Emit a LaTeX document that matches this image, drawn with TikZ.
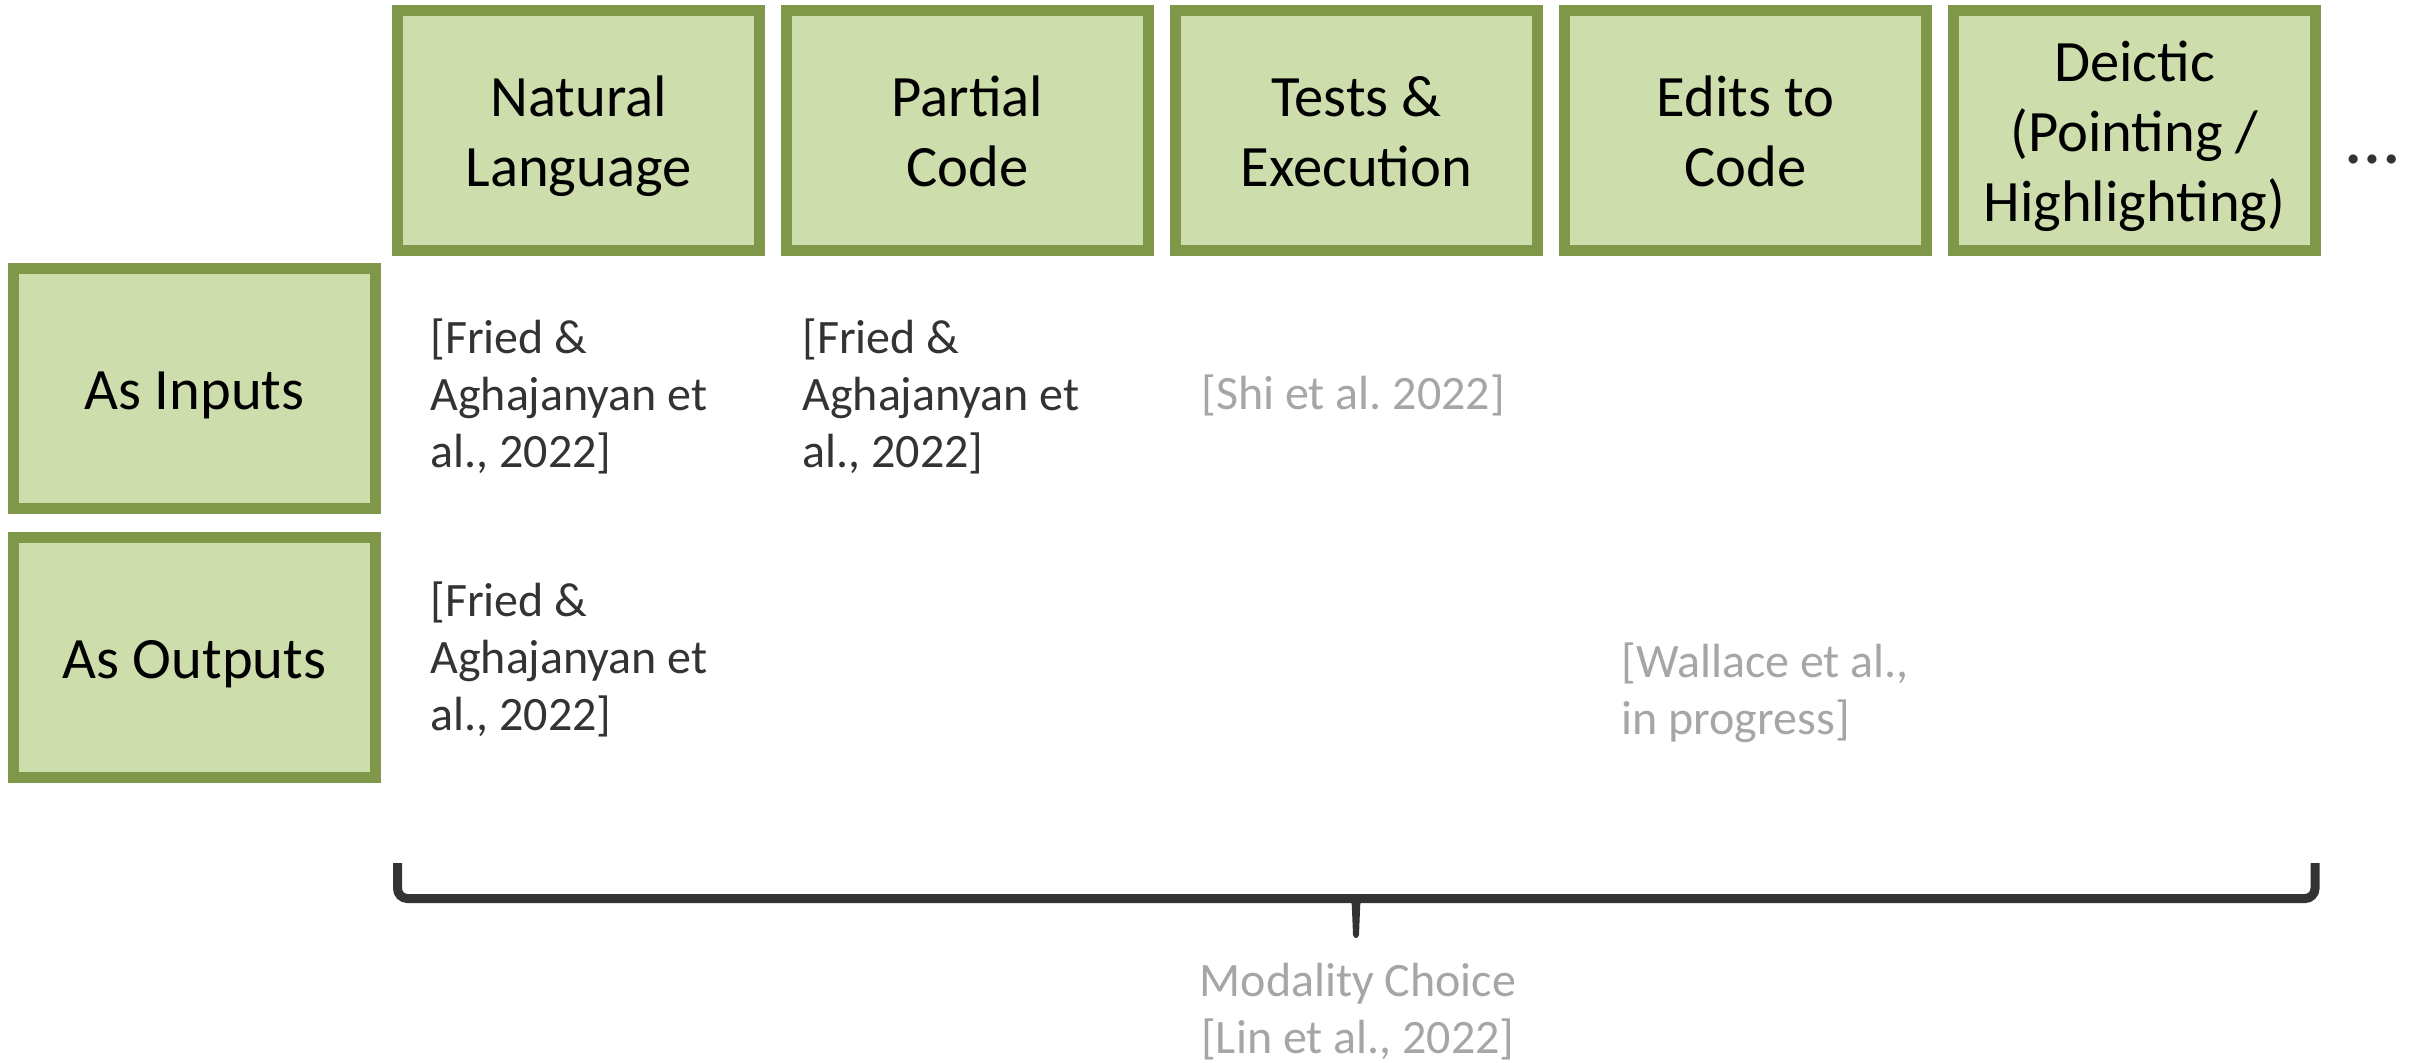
\documentclass[tikz,border=0pt]{standalone}
\usepackage{fontspec}
\setmainfont{Carlito}
\usetikzlibrary{positioning}

\definecolor{boxfill}{RGB}{206,221,172}
\definecolor{boxline}{RGB}{126,151,72}
\definecolor{citedark}{RGB}{51,51,51}
\definecolor{citegray}{RGB}{166,166,166}

% fixed line height so every box label sits the same way
\newcommand{\labelstrut}{\rule[-6.3pt]{0pt}{33.3pt}}

\begin{document}
\begin{tikzpicture}[x=0.5pt,y=-0.5pt,node distance=8pt]
  \tikzstyle{modality}=[draw=boxline,fill=boxfill,line width=5.5pt,minimum width=181pt,minimum height=120pt,inner sep=0pt,text width=181pt,align=flush center,font=\fontsize{29.3}{35}\selectfont,execute at begin node=\labelstrut,execute at end node=\labelstrut]
  \tikzstyle{cite}=[anchor=west,inner sep=0pt,align=left,text=citedark,font=\fontsize{24}{28.5}\selectfont]
  \tikzstyle{pending}=[cite,text=citegray]

  \useasboundingbox (0,0) rectangle (2417,1062);

  % modalities along the top
  \node[modality] (nl) at (578.5,130.5) {Natural\\Language};
  \node[modality] (pc) [right=of nl] {Partial\\Code};
  \node[modality] (te) [right=of pc] {Tests \&\\Execution};
  \node[modality] (ed) [right=of te] {Edits to\\Code};
  \node[modality] (dx) [right=of ed] {Deictic\\(Pointing /\\Highlighting)};
  \node[text=citedark,font=\fontsize{38}{40}\selectfont,inner sep=0pt] (more) at (2373,159) {…};

  % direction of use
  \node[modality] (in) at (194.5,388.5) {As Inputs};
  \node[modality] (out) [below=9pt of in] {As Outputs};

  % references in the grid
  \node[cite] (fa1) at (430,396) {[Fried \&\\Aghajanyan et\\al., 2022]};
  \node[cite] (fa2) at (802,396) {[Fried \&\\Aghajanyan et\\al., 2022]};
  \node[pending] (shi) at (1201,395) {[Shi et al.\ 2022]};
  \node[cite] (fa3) at (430,659) {[Fried \&\\Aghajanyan et\\al., 2022]};
  \node[pending] (wal) at (1621,693) {[Wallace et al.,\\in progress]};

  % brace under the columns
  \draw[citedark,line width=4.5pt,rounded corners=5pt] (397.5,863) |- (2315,898.5) -- (2315,863);
  \fill[citedark] (1336,894) .. controls (1349,894) and (1352,898) .. (1352,910)
    -- (1353,935) .. controls (1354,939) and (1358,939) .. (1359,935)
    -- (1360,910) .. controls (1360,898) and (1363,894) .. (1376,894) -- cycle;
  \node[pending,anchor=center,align=center] (choice) at (1358,1012) {Modality Choice\\{[}Lin et al., 2022]};
\end{tikzpicture}
\end{document}
